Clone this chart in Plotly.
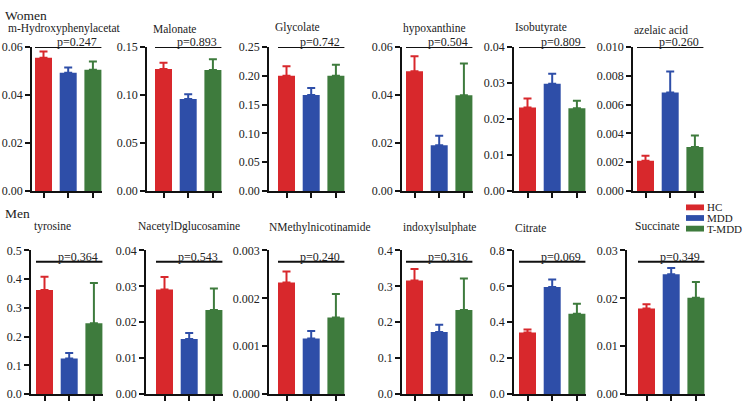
import plotly.graph_objects as go

# ---------------- data ----------------
groups = ["HC", "MDD", "T-MDD"]

women_names = ["m-Hydroxyphenylacetat", "Malonate", "Glycolate", "hypoxanthine", "Isobutyrate", "azelaic acid"]
women_hc = [0.0555, 0.1272, 0.200, 0.0499, 0.0232, 0.0021]
women_mdd = [0.0493, 0.0958, 0.1667, 0.0191, 0.0298, 0.00684]
women_tmdd = [0.0505, 0.1262, 0.200, 0.0399, 0.0230, 0.00305]
women_hc_err = [0.0027, 0.0065, 0.0165, 0.0063, 0.0025, 0.00034]
women_mdd_err = [0.0022, 0.0050, 0.0123, 0.0039, 0.0028, 0.00146]
women_tmdd_err = [0.0035, 0.0112, 0.0193, 0.0133, 0.0021, 0.00081]
women_p = ["p=0.247", "p=0.893", "p=0.742", "p=0.504", "p=0.809", "p=0.260"]
women_ymax = [0.06, 0.15, 0.25, 0.06, 0.04, 0.010]
women_dtick = [0.02, 0.05, 0.05, 0.02, 0.01, 0.002]
women_fmt = [".2f", ".2f", ".2f", ".2f", ".2f", ".3f"]

men_names = ["tyrosine", "NacetylDglucosamine", "NMethylnicotinamide", "indoxylsulphate", "Citrate", "Succinate"]
men_hc = [0.362, 0.0291, 0.00233, 0.316, 0.3426, 0.01785]
men_mdd = [0.1244, 0.01534, 0.00116, 0.173, 0.5964, 0.0250]
men_tmdd = [0.2466, 0.0234, 0.0016, 0.234, 0.4475, 0.0201]
men_hc_err = [0.046, 0.0035, 0.00023, 0.032, 0.018, 0.0009]
men_mdd_err = [0.019, 0.0017, 0.00016, 0.020, 0.041, 0.0013]
men_tmdd_err = [0.140, 0.0060, 0.00049, 0.088, 0.055, 0.0033]
men_p = ["p=0.364", "p=0.543", "p=0.240", "p=0.316", "p=0.069", "p=0.349"]
men_ymax = [0.5, 0.04, 0.003, 0.4, 0.8, 0.03]
men_dtick = [0.1, 0.01, 0.001, 0.1, 0.2, 0.01]
men_fmt = [".1f", ".2f", ".3f", ".1f", ".1f", ".2f"]

# ---------------- styling / placement ----------------
W, H = 745, 408
FONT = "'Liberation Serif', 'Times New Roman', Times, 'DejaVu Serif', serif"
colors = ["#d8282c", "#2e4ea8", "#3e7b3d"]

top_axis_px = [32, 147, 269, 402, 514, 633]
top_red_px = [35, 155, 278, 406, 519, 637]
bot_axis_px = [31, 146, 269, 402, 514, 627]
bot_red_px = [36, 156, 278, 406, 519, 638]
top_y_px = (41.5, 190.5)
bot_y_px = (252, 401)
BAR_PX = 17.0
STEP_PX = 24.7

top_title_px = [(6, 22), (151, 23), (273, 21), (401, 22), (513, 21), (632, 24)]
bot_title_px = [(32, 227), (136, 227), (267, 228), (401, 228), (513, 229), (633, 227)]


def px_x(p):
    return p / W


def px_y(p):
    return 1 - p / H


fig = go.Figure()
shapes = []
annotations = []

rows = [
    dict(names=women_names, vals=[women_hc, women_mdd, women_tmdd],
         errs=[women_hc_err, women_mdd_err, women_tmdd_err], p=women_p,
         ymax=women_ymax, dtick=women_dtick, fmt=women_fmt,
         axis_px=top_axis_px, red_px=top_red_px, y_px=top_y_px,
         title_px=top_title_px, line_frac=1.0),
    dict(names=men_names, vals=[men_hc, men_mdd, men_tmdd],
         errs=[men_hc_err, men_mdd_err, men_tmdd_err], p=men_p,
         ymax=men_ymax, dtick=men_dtick, fmt=men_fmt,
         axis_px=bot_axis_px, red_px=bot_red_px, y_px=bot_y_px,
         title_px=bot_title_px, line_frac=0.92),
]

bw = BAR_PX / STEP_PX
k = 0
for r in rows:
    for j in range(6):
        k += 1
        xa = "x" if k == 1 else f"x{k}"
        ya = "y" if k == 1 else f"y{k}"
        axis_px = r["axis_px"][j]
        red_c = r["red_px"][j] + BAR_PX / 2
        right_px = r["red_px"][j] + 2 * STEP_PX + BAR_PX + 1
        rng_l = -(red_c - axis_px) / STEP_PX
        rng_r = 2 + (right_px - (red_c + 2 * STEP_PX)) / STEP_PX
        for g in range(3):
            fig.add_trace(go.Bar(
                x=[g], y=[r["vals"][g][j]], width=bw,
                marker=dict(color=colors[g], line=dict(width=0)),
                error_y=dict(type="data", symmetric=False,
                             array=[r["errs"][g][j]], arrayminus=[0],
                             color=colors[g], thickness=2, width=4),
                xaxis=xa, yaxis=ya, showlegend=False, name=groups[g]))
        xkey = "xaxis" if k == 1 else f"xaxis{k}"
        ykey = "yaxis" if k == 1 else f"yaxis{k}"
        fig.layout[xkey] = dict(
            domain=[px_x(axis_px), px_x(right_px)], range=[rng_l, rng_r],
            anchor=ya, showgrid=False, zeroline=False, showline=True,
            linecolor="#111", linewidth=1.5, ticks="outside", ticklen=5,
            tickwidth=1.5, tickcolor="#111", tickvals=[0, 1, 2],
            showticklabels=False, fixedrange=True)
        fig.layout[ykey] = dict(
            domain=[px_y(r["y_px"][1]), px_y(r["y_px"][0])],
            range=[0, r["ymax"][j]], anchor=xa, showgrid=False,
            zeroline=False, showline=True, linecolor="#111", linewidth=1.5,
            ticks="outside", ticklen=5, tickwidth=1.5, tickcolor="#111",
            tick0=0, dtick=r["dtick"][j], tickformat=r["fmt"][j],
            tickfont=dict(family=FONT, size=12, color="#222"),
            fixedrange=True)
        # significance line
        ly = r["ymax"][j] * r["line_frac"]
        x0 = -bw / 2
        x1 = 2 + bw / 2
        shapes.append(dict(type="line", xref=xa, yref=ya, x0=x0, x1=x1,
                           y0=ly, y1=ly, line=dict(color="#111", width=2)))
        annotations.append(dict(xref=xa, yref=ya, x=x1, y=ly, text=r["p"][j],
                                showarrow=False, xanchor="right",
                                yanchor="bottom", xshift=-2, yshift=-4,
                                font=dict(family=FONT, size=12, color="#222")))
        tx, ty = r["title_px"][j]
        annotations.append(dict(xref="paper", yref="paper", x=px_x(tx),
                                y=px_y(ty), text=r["names"][j],
                                showarrow=False, xanchor="left",
                                yanchor="middle",
                                font=dict(family=FONT, size=11.5, color="#222")))

annotations.append(dict(xref="paper", yref="paper", x=px_x(3), y=px_y(9),
                        text="Women", showarrow=False, xanchor="left",
                        yanchor="middle",
                        font=dict(family=FONT, size=13.5, color="#222")))
annotations.append(dict(xref="paper", yref="paper", x=px_x(3), y=px_y(214),
                        text="Men", showarrow=False, xanchor="left",
                        yanchor="middle",
                        font=dict(family=FONT, size=13.5, color="#222")))

# legend
leg_y = [207.5, 218.5, 229.5]
for g in range(3):
    shapes.append(dict(type="rect", xref="paper", yref="paper",
                       x0=px_x(686), x1=px_x(704),
                       y0=px_y(leg_y[g] + 3), y1=px_y(leg_y[g] - 3),
                       fillcolor=colors[g], line=dict(width=0)))
    annotations.append(dict(xref="paper", yref="paper", x=px_x(706),
                            y=px_y(leg_y[g]), text=groups[g],
                            showarrow=False, xanchor="left", yanchor="middle",
                            borderpad=0,
                            font=dict(family=FONT, size=11, color="#222")))

fig.update_layout(
    width=W, height=H, margin=dict(l=0, r=0, t=0, b=0),
    paper_bgcolor="white", plot_bgcolor="white",
    barmode="overlay", showlegend=False,
    shapes=shapes, annotations=annotations,
    font=dict(family=FONT, size=12, color="#222"),
)

fig.write_html("out.html", config={"displayModeBar": False},
               post_script="document.body.style.margin='0';document.body.style.overflow='hidden';")
